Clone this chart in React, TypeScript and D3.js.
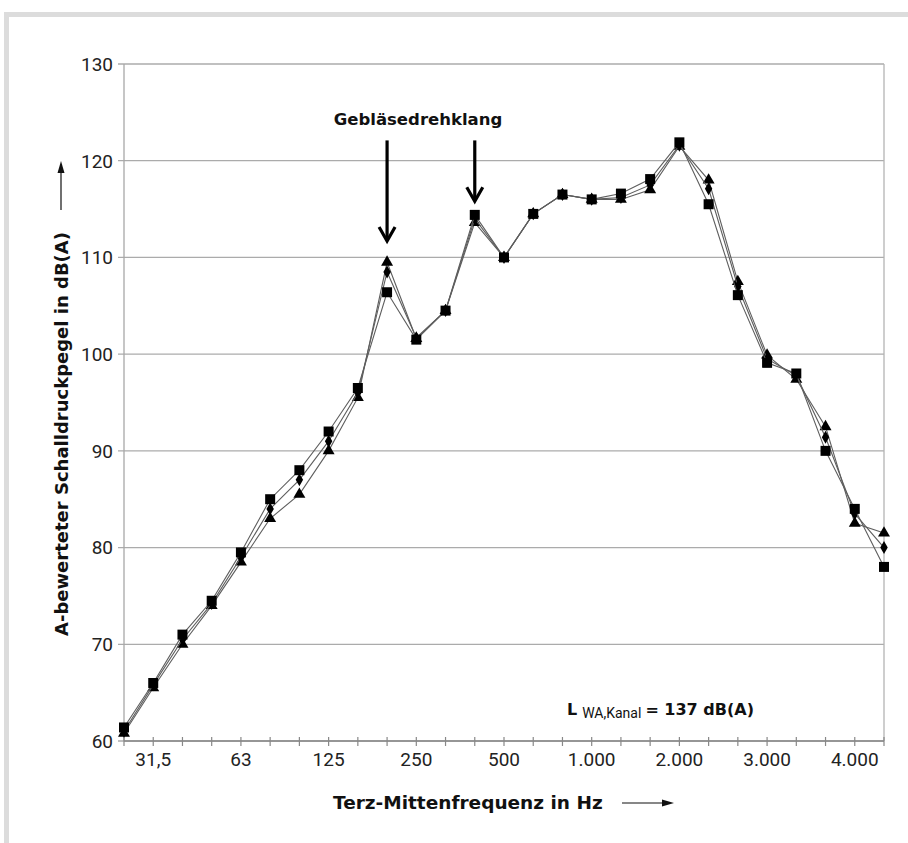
import React from 'react';
import * as d3 from 'd3';

// third-octave bands (one tick each)
const bands = ['25', '31,5', '40', '50', '63', '80', '100', '125', '160', '200', '250', '315', '400', '500',
  '630', '800', '1000', '1250', '1600', '2000', '2500', '3150', '4000', '5000', '6300', '8000', '10000'];
// labels as printed, on every third band starting at the 2nd
const tickLabels = ['31,5', '63', '125', '250', '500', '1.000', '2.000', '3.000', '4.000'];
const yTicks = [60, 70, 80, 90, 100, 110, 120, 130];

const triangleVals = [60.8, 65.5, 70, 74, 78.5, 83, 85.5, 90, 95.5, 109.5, 101.6, 104.5, 113.6, 110, 114.5, 116.5,
  116, 116, 117, 121.5, 118, 107.5, 99.9, 97.4, 92.5, 82.5, 81.5];
const diamondVals = [61, 65.8, 70.5, 74.2, 79, 84, 87, 91, 96, 108.5, 101.7, 104.5, 114, 110, 114.5, 116.5,
  116, 116.2, 117.5, 121.6, 117.1, 107, 99.5, 97.8, 91.4, 83.5, 80];
const squareVals = [61.4, 66, 71, 74.5, 79.5, 85, 88, 92, 96.5, 106.4, 101.5, 104.5, 114.4, 110, 114.5, 116.5,
  116, 116.6, 118.1, 121.9, 115.5, 106.1, 99.1, 98, 90, 84, 78];

// arrows: band, top value, tip value
const arrows = [
  { band: '200', top: 122.1, tip: 111.6 },
  { band: '400', top: 122.1, tip: 115.7 },
];

const W = 908;
const H = 843;
const left = 124;
const right = 884;
const top = 64;
const bottom = 741;

const tickFont = 'Roboto, sans-serif';
const boldFont = "'DejaVu Sans', sans-serif";

export default function App() {
  const x = d3.scalePoint<string>().domain(bands).range([left, right]);
  const y = d3.scaleLinear().domain([60, 130]).range([bottom, top]);

  const line = d3.line<number>()
    .x((_, i) => x(bands[i]) as number)
    .y(d => y(d));

  const series = [
    { vals: triangleVals, sym: d3.symbol(d3.symbolTriangle, 62)() },
    { vals: diamondVals, sym: d3.symbol(d3.symbolDiamond, 48)() },
    { vals: squareVals, sym: d3.symbol(d3.symbolSquare, 100)() },
  ];

  return (
    <svg width={W} height={H} style={{ position: 'absolute', left: 0, top: 0, background: '#fff' }}>
      {/* outer frame */}
      <rect x={6.5} y={14.5} width={W + 20} height={H + 20} fill="none" stroke="#dcdcdc" strokeWidth={5} />

      {/* grid */}
      {yTicks.map(t => (
        <g key={t}>
          <line x1={left - 6} x2={right} y1={y(t)} y2={y(t)} stroke="#ababab" strokeWidth={1.3} />
          <text x={113} y={y(t)} dy="0.36em" textAnchor="end" fontFamily={tickFont} fontSize={19} fill="#222">{t}</text>
        </g>
      ))}
      <line x1={left} x2={left} y1={top} y2={bottom} stroke="#a8a8a8" strokeWidth={1.3} />
      <line x1={right} x2={right} y1={top} y2={bottom} stroke="#b4b4b4" strokeWidth={1.3} />
      <line x1={left} x2={right} y1={bottom} y2={bottom} stroke="#888" strokeWidth={1.3} />
      {bands.map(b => (
        <line key={b} x1={x(b)} x2={x(b)} y1={bottom - 4} y2={bottom + 5} stroke="#888" strokeWidth={1.2} />
      ))}
      {tickLabels.map((l, i) => (
        <text key={l} x={x(bands[1 + i * 3])} y={766} textAnchor="middle" fontFamily={tickFont} fontSize={19} fill="#222">{l}</text>
      ))}

      {/* series */}
      {series.map((s, k) => (
        <g key={k}>
          <path d={line(s.vals) || ''} fill="none" stroke="#5e5e5e" strokeWidth={1.1} />
          {s.vals.map((v, i) => (
            <path key={i} d={s.sym || ''} transform={`translate(${x(bands[i])},${y(v)})`} fill="#000" />
          ))}
        </g>
      ))}

      {/* arrows */}
      {arrows.map(a => {
        const ax = x(a.band) as number;
        const yt = y(a.top);
        const yp = y(a.tip);
        return (
          <g key={a.band}>
            <line x1={ax} x2={ax} y1={yt} y2={yp - 3} stroke="#000" strokeWidth={3.2} />
            <path d={`M${ax - 8},${yp - 15} L${ax},${yp - 1} L${ax + 8},${yp - 15}`} fill="none" stroke="#000" strokeWidth={3.2} strokeLinejoin="miter" />
          </g>
        );
      })}
      <text x={418} y={125} textAnchor="middle" fontFamily={boldFont} fontWeight={700} fontSize={16.5} fill="#111">Gebläsedrehklang</text>

      {/* L WA,Kanal */}
      <text x={567} y={715} fontFamily={boldFont} fontWeight={700} fontSize={16} fill="#111">
        L<tspan fontFamily={tickFont} fontWeight={400} fontSize={14} dx={5} dy={3}>WA,Kanal</tspan>
        <tspan dx={4} dy={-3}>= 137 dB(A)</tspan>
      </text>

      {/* axis titles */}
      <text x={333} y={809} fontFamily={boldFont} fontWeight={700} fontSize={18.5} fill="#111">Terz-Mittenfrequenz in Hz</text>
      <line x1={622} x2={664} y1={803} y2={803} stroke="#111" strokeWidth={1.2} />
      <path d="M662,799.5 L674,803 L662,806.5 Z" fill="#111" />

      <text transform="translate(68,434) rotate(-90)" textAnchor="middle" fontFamily={boldFont} fontWeight={700} fontSize={18} fill="#111">
        A-bewerteter Schalldruckpegel in dB(A)
      </text>
      <line x1={61} x2={61} y1={210} y2={171} stroke="#111" strokeWidth={1.2} />
      <path d="M57.5,173 L61,161 L64.5,173 Z" fill="#111" />
    </svg>
  );
}
